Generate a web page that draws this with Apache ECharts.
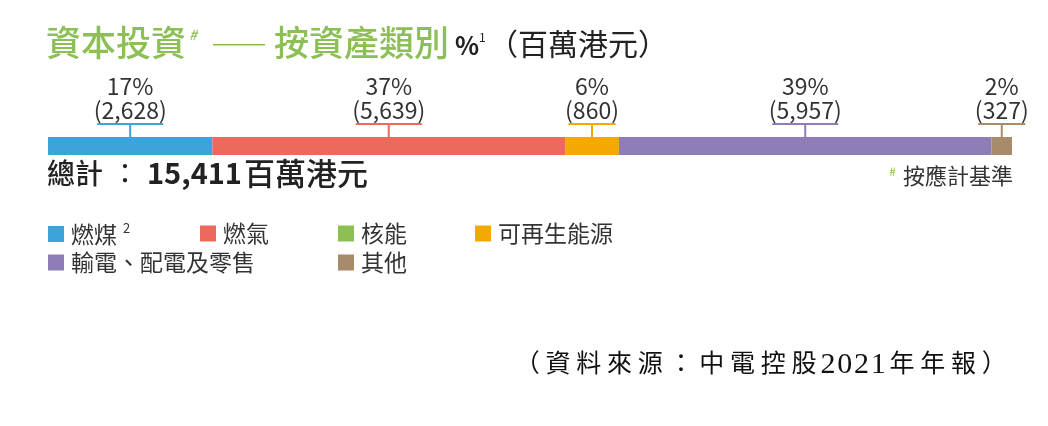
<!DOCTYPE html>
<html><head><meta charset="utf-8">
<script src="https://cdn.jsdelivr.net/npm/echarts@6/dist/echarts.min.js"></script>
<style>html,body{margin:0;padding:0;background:#fff}#c{width:1048px;height:426px}</style>
</head><body><div id="c"></div>
<script>
const categories = ['燃煤', '燃氣', '核能', '可再生能源', '輸電、配電及零售', '其他'];
const values = [2628, 5639, 0, 860, 5957, 327];
const percents = [17, 37, 0, 6, 39, 2];
const total = 15411;
const sourceText = '（資料來源：中電控股2021年年報）';

const colors = ['#3ba4db', '#ec6a5c', '#8cc152', '#f5a800', '#8f7db7', '#a78b6a'];
const GREEN = '#8cbf55';
const FF = '"Noto Sans CJK TC", "Noto Sans", sans-serif';
const SERIF = '"Liberation Serif", "Noto Sans CJK TC", serif';
const fmt = v => v.toLocaleString('en-US');

const chart = echarts.init(document.getElementById('c'));

const series = categories.map((name, i) => {
  const vtxt = '(' + fmt(values[i]) + ')';
  const lineW = Math.round(vtxt.length * 9.4);
  return {
    name: name,
    type: 'bar',
    stack: 'total',
    barWidth: 18,
    itemStyle: { color: colors[i] },
    data: [values[i]],
    silent: true,
    label: {
      show: values[i] > 0,
      position: 'top',
      distance: 0,
      align: 'center',
      formatter: () => '{p|' + percents[i] + '%}\n{v|' + vtxt + '}\n{h|}\n{t|}',
      rich: {
        p: { fontSize: 23, lineHeight: 23, color: '#333', fontFamily: FF },
        v: { fontSize: 23, lineHeight: 25, color: '#333', fontFamily: FF },
        h: { width: lineW, height: 2, lineHeight: 2, backgroundColor: colors[i] },
        t: { width: 2, height: 12, lineHeight: 12, backgroundColor: colors[i] }
      }
    }
  };
});

const legendPos = [[48, 222], [200, 222], [338, 222], [475, 222], [48, 251], [338, 251]];
const legends = categories.map((name, i) => ({
  data: [name],
  left: legendPos[i][0],
  top: legendPos[i][1],
  padding: 0,
  icon: 'rect',
  itemWidth: 16,
  itemHeight: 16,
  itemGap: 0,
  selectedMode: false,
  textStyle: {
    fontSize: 23, color: '#333', fontFamily: FF,
    rich: {
      a: { fontSize: 23, color: '#333', fontFamily: FF, padding: [0, 0, 0, 2] },
      s: { fontSize: 13, color: '#333', fontFamily: FF, padding: [0, 0, 11, 6] }
    }
  },
  formatter: n => n === '燃煤' ? '{a|燃煤}{s|2}' : '{a|' + n + '}'
}));

// source line: each character as its own token so the spacing matches
const srcRich = {
  c: { fontSize: 25, fontFamily: SERIF, fill: '#111', width: 30.75, align: 'center' },
  d: { fontSize: 30, fontFamily: SERIF, fill: '#111', width: 16.8, align: 'center' }
};
const srcStr = Array.from(sourceText).map(ch => (/[0-9]/.test(ch) ? '{d|' : '{c|') + ch + '}').join('');

function txt(x, y, text, size, color, weight, extra) {
  return {
    type: 'text', x: x, y: y, silent: true,
    style: Object.assign({
      text: text, fill: color, fontSize: size, fontFamily: FF,
      fontWeight: weight || 'normal', verticalAlign: 'middle', align: 'left'
    }, extra || {})
  };
}

chart.setOption({
  animation: false,
  graphic: [
    txt(46, 43, '資本投資', 35, GREEN, 500),
    txt(189, 35, '#', 14, GREEN, 500, { fontStyle: 'italic' }),
    txt(212, 43, '———', 22, GREEN, 'normal'),
    txt(274, 43, '按資產類別', 35, GREEN, 500),
    txt(455, 45, '%', 25, '#222', 'bold'),
    txt(479, 37, '1', 12, '#222', 'normal'),
    txt(488, 44, '（百萬港元）', 30, '#222', 'normal'),
    {
      type: 'text', x: 47, y: 173, silent: true,
      style: {
        text: '{a|總計}{c|：}{n|' + fmt(total) + '}{u|百萬港元}',
        verticalAlign: 'middle', align: 'left',
        rich: {
          a: { fontSize: 28, fontFamily: FF, fill: '#222', fontWeight: 500 },
          c: { fontSize: 28, fontFamily: FF, fill: '#222', width: 44, align: 'center' },
          n: { fontSize: 29, fontFamily: FF, fill: '#222', fontWeight: 'bold', padding: [0, 2, 0, 0] },
          u: { fontSize: 31, fontFamily: FF, fill: '#222', fontWeight: 500 }
        }
      }
    },
    {
      type: 'text', x: 1013, y: 176, silent: true,
      style: {
        text: '{s|#}{a|按應計基準}',
        verticalAlign: 'middle', align: 'right',
        rich: {
          s: { fontSize: 12, fontFamily: FF, fill: GREEN, padding: [0, 7, 10, 0] },
          a: { fontSize: 22, fontFamily: FF, fill: '#333' }
        }
      }
    },
    {
      type: 'text', x: 512, y: 365, silent: true,
      style: { text: srcStr, verticalAlign: 'middle', align: 'left', rich: srcRich }
    }
  ],
  legend: legends,
  grid: { left: 48, right: 36, top: 137, height: 18 },
  xAxis: { type: 'value', min: 0, max: total, show: false },
  yAxis: { type: 'category', data: ['資本投資'], show: false },
  series: series
});
</script></body></html>
